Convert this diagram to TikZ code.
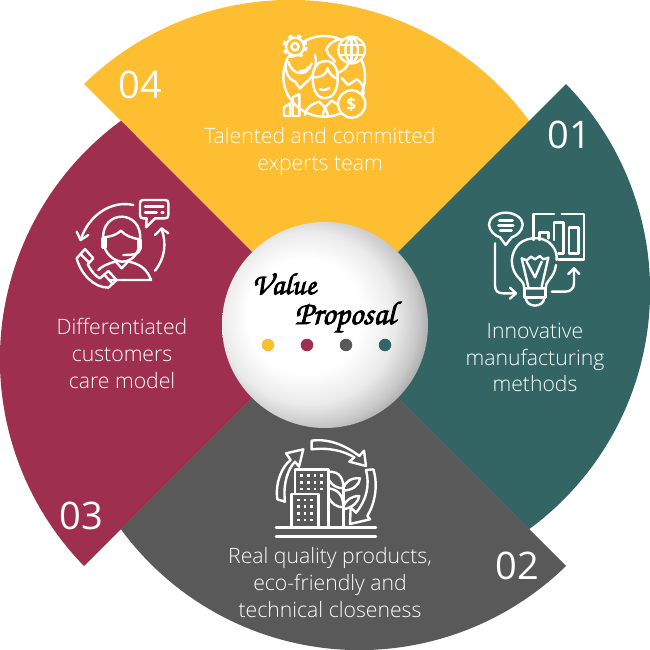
\documentclass[tikz,border=0pt]{standalone}
\usepackage{fontspec}
\setmainfont[Ligatures=NoCommon]{Open Sans Light}
\newfontfamily\numf{Open Sans}
\newfontfamily\scriptf[FakeBold=2.5]{TeX Gyre Chorus}
\definecolor{cyel}{HTML}{FDBE32}
\definecolor{cteal}{HTML}{336565}
\definecolor{cmar}{HTML}{9F2F4F}
\definecolor{cgry}{HTML}{595959}
\pgfdeclareradialshading{sph}{\pgfpoint{-7bp}{3bp}}{
 color(0bp)=(white); color(14bp)=(white); color(21bp)=(black!8); color(26bp)=(black!22); color(32.5bp)=(black!50); color(50bp)=(black!55)}
\tikzset{
 lbl/.style={text=white,font=\fontsize{21.2}{26.6}\selectfont,align=center,inner sep=0pt},
 num/.style={text=white,font=\numf\fontsize{38}{38}\selectfont,inner sep=0pt},
 ic/.style={draw=white,line width=2.4pt,line cap=round,line join=round},
 dot/.style={circle,minimum size=12.5pt,inner sep=0pt},
}
\newcommand{\sect}[2]{\fill[#2,rotate=#1] (0,0) -- (-241,241) arc[start angle=134.3,end angle=36.2,radius=295.8] -- cycle;}
\begin{document}
\begin{tikzpicture}[x=1pt,y=-1pt]
\useasboundingbox (0,0) rectangle (650,650);
\begin{scope}[shift={(325,325)},x=1pt,y=1pt]
\sect{0}{cyel}
\sect{-90}{cteal}
\sect{-180}{cgry}
\sect{-270}{cmar}
\shade[shading=sph] (0,0) circle[radius=103];
\end{scope}
\node[dot,fill=cyel] (d1) at (268,345) {};
\node[dot,fill=cmar] (d2) at (307,345) {};
\node[dot,fill=cgry] (d3) at (346,345) {};
\node[dot,fill=cteal] (d4) at (385,345) {};
\node[font=\scriptf\fontsize{30.5}{30}\selectfont,inner sep=0pt] (v) at (284,284) {Value};
\node[font=\scriptf\fontsize{33}{33}\selectfont,inner sep=0pt] (p) at (345,317) {Proposal};
\node[num] (n4) at (140,85) {04};
\node[num] (n1) at (569,135) {01};
\node[num] (n3) at (81,516) {03};
\node[num] (n2) at (517,566) {02};
\node[lbl] (t4) at (320,151.5) {Talented and committed\\experts team};
\node[lbl] (t1) at (535,357.5) {Innovative\\manufacturing\\methods};
\node[lbl] (t3) at (122,353.5) {Differentiated\\customers\\care model};
\node[lbl] (t2) at (330,582.5) {Real quality products,\\eco-friendly and\\technical closeness};
% team icon
\begin{scope}[shift={(200,0)},x=1pt/3,y=-1pt/3,ic]
\draw (250,230) .. controls (250,160) and (310,108) .. (372,108) .. controls (440,108) and (495,160) .. (495,230) .. controls (495,300) and (440,350) .. (372,350) .. controls (310,350) and (250,300) .. (250,230);
\draw[fill=cyel] (285,140) circle[radius=27];
\draw[line width=4.5pt,dash pattern=on 4pt off 4.4pt,line cap=butt] (285,140) circle[radius=31];
\draw (285,140) circle[radius=11];
\draw[fill=cyel] (455,150) circle[radius=40];
\draw (455,110) .. controls (430,125) and (430,175) .. (455,190) .. controls (480,175) and (480,125) .. (455,110);
\draw (455,110) -- (455,190) (418,135) -- (492,135) (418,165) -- (492,165);
% left person
\draw[fill=cyel] (262,175) .. controls (250,210) and (262,235) .. (285,245) -- (300,265) -- (320,245) .. controls (345,230) and (352,190) .. (345,165);
\draw (265,185) .. controls (275,225) and (320,235) .. (335,190);
\draw (300,212) .. controls (312,215) and (322,208) .. (326,200);
% right person
\draw (378,150) .. controls (385,130) and (405,120) .. (420,118);
\draw (380,150) .. controls (385,170) and (400,175) .. (405,185);
\draw (425,235) -- (445,255) -- (470,238);
\draw (470,238) .. controls (490,250) and (492,265) .. (490,285);
\draw (410,220) .. controls (425,215) and (440,205) .. (445,190);
% centre person
\draw[fill=cyel] (338,235) .. controls (338,195) and (360,183) .. (378,183) .. controls (400,183) and (415,205) .. (413,238) .. controls (413,275) and (395,295) .. (375,295) .. controls (355,295) and (338,275) .. (338,235);
\draw (342,232) .. controls (365,232) and (380,222) .. (383,205) .. controls (388,220) and (398,232) .. (412,236);
\draw (360,268) .. controls (370,272) and (380,270) .. (388,264);
\draw (315,345) .. controls (318,322) and (335,312) .. (358,305) -- (375,322) -- (395,302) -- (415,315);
\draw (375,322) -- (368,345) (375,322) -- (384,345);
% bars
\draw (252,348) -- (252,322) -- (270,310) -- (270,348) -- cycle;
\draw (278,348) -- (278,292) -- (298,282) -- (298,348) -- cycle;
% coin
\draw[fill=cyel] (455,312) circle[radius=41];
\node[text=white,font=\numf\fontsize{17}{17}\selectfont\bfseries,inner sep=0pt,draw=none] (dol) at (454,313) {\$};
\end{scope}
% lightbulb icon
\begin{scope}[shift={(460,190)},x=1pt/3,y=-1pt/3,ic]
\draw (137,68) .. controls (165,68) and (188,85) .. (188,103) .. controls (188,122) and (170,138) .. (155,142) -- (137,165) -- (120,142) .. controls (105,138) and (87,122) .. (87,103) .. controls (87,85) and (110,68) .. (137,68) -- cycle;
\draw (118,92) -- (158,92) (115,107) -- (160,107) (120,122) -- (155,122);
\draw (105,160) -- (105,285) .. controls (105,302) and (112,310) .. (130,310) -- (167,310);
\draw (150,293) -- (168,310) -- (150,326);
\draw (220,150) -- (220,72) -- (282,72) (305,72) -- (372,72) -- (372,208) -- (295,208);
\draw (238,150) -- (238,128) -- (265,128) -- (265,145);
\draw (282,150) -- (282,97) -- (310,97) -- (310,190) -- (295,190);
\draw (327,190) -- (327,112) -- (355,112) -- (355,190) -- cycle;
\draw (180,268) .. controls (155,245) and (145,205) .. (170,170) .. controls (185,145) and (245,130) .. (275,165) .. controls (285,175) and (292,195) .. (290,210);
\draw (288,225) .. controls (285,245) and (278,258) .. (267,270);
\draw (185,205) -- (200,211) -- (213,200) -- (225,208) -- (240,198) -- (250,208) -- (265,203);
\draw (185,205) -- (205,290) (265,203) -- (245,290);
\draw (200,215) -- (225,262) -- (245,215);
\draw (180,268) .. controls (190,278) and (193,285) .. (193,295) -- (257,295) .. controls (257,285) and (260,278) .. (267,270);
\draw (193,295) -- (193,322) -- (257,322) -- (257,295);
\draw (197,322) .. controls (198,355) and (252,355) .. (253,322);
\draw (275,305) -- (315,305) .. controls (332,305) and (342,295) .. (342,280) -- (342,238);
\draw (325,252) -- (342,235) -- (358,252);
\end{scope}
% city icon
\begin{scope}[shift={(260,420)},x=1pt/3,y=-1pt/3,ic]
\draw[line width=2.6pt] (48,322) -- (348,322) (48,350) -- (348,350);
\draw (105,218) -- (105,148) -- (205,148) -- (205,322);
\foreach \xx in {125,145,165,185} \foreach \yy in {167,187,207} {\fill[white] (\xx-4,\yy-4) rectangle (\xx+4,\yy+4);}
\draw (95,322) -- (95,222) -- (175,222) -- (175,322);
\foreach \xx in {115,135,155} \foreach \yy in {240,260,280,300} {\fill[white] (\xx-4,\yy-4) rectangle (\xx+4,\yy+4);}
\draw (250,322) -- (250,190);
\draw (207,155) .. controls (240,155) and (250,175) .. (250,205) .. controls (230,205) and (215,195) .. (207,180);
\draw (207,205) .. controls (235,210) and (250,225) .. (250,262) .. controls (230,262) and (215,250) .. (207,235);
\draw (250,205) .. controls (255,185) and (275,172) .. (300,175) .. controls (298,195) and (280,210) .. (250,212);
\draw (250,262) .. controls (255,240) and (275,228) .. (298,228) .. controls (295,245) and (280,262) .. (250,268);
\draw (75,245) -- (52,238) .. controls (45,190) and (65,140) .. (92,120) -- (78,100) -- (130,88) -- (117,140) -- (105,125) .. controls (85,145) and (68,190) .. (75,245) -- cycle;
\draw (155,62) .. controls (205,55) and (255,75) .. (298,108) -- (312,92) -- (318,138) -- (268,125) -- (283,112) .. controls (250,92) and (205,82) .. (155,88) -- cycle;
\draw (318,150) -- (340,148) .. controls (355,195) and (345,250) .. (322,288) -- (330,298) -- (270,312) -- (272,262) -- (288,278) .. controls (320,240) and (330,195) .. (318,150) -- cycle;
\end{scope}
% care icon
\begin{scope}[shift={(60,190)},x=1pt/3,y=-1pt/3,ic]
\draw (250,30) -- (315,30) .. controls (322,30) and (325,33) .. (325,40) -- (325,75) .. controls (325,82) and (322,85) .. (315,85) -- (285,85) -- (258,112) -- (260,85) -- (250,85) .. controls (243,85) and (240,82) .. (240,75) -- (240,40) .. controls (240,33) and (243,30) .. (250,30) -- cycle;
\draw (255,50) -- (310,50) (255,67) -- (290,67) (305,67) -- (310,67);
\draw (220,45) .. controls (155,30) and (85,75) .. (62,150);
\draw (50,125) -- (62,150) -- (85,135);
\draw (285,242) .. controls (315,205) and (320,160) .. (305,118);
\draw (285,135) -- (305,115) -- (325,130);
\draw (130,150) .. controls (125,105) and (155,80) .. (185,80) .. controls (215,80) and (245,105) .. (240,150);
\draw (133,170) .. controls (140,195) and (165,215) .. (188,215) .. controls (205,215) and (225,205) .. (235,178);
\draw (132,142) .. controls (150,140) and (170,135) .. (183,122) .. controls (195,138) and (220,145) .. (238,148);
\draw (128,145) -- (136,145) -- (136,172) -- (128,172) -- cycle;
\draw (235,150) -- (243,150) -- (243,175) -- (235,175) -- cycle;
\draw (240,178) .. controls (238,190) and (228,195) .. (190,195);
\draw (165,212) -- (185,235) -- (207,212);
\draw (115,240) .. controls (125,230) and (140,222) .. (165,215);
\draw (207,215) .. controls (240,222) and (262,238) .. (273,270) -- (148,270);
\draw (50,205) -- (75,177) -- (100,205) -- (83,223) .. controls (95,245) and (105,258) .. (120,265) -- (145,243) -- (170,270) -- (145,293) .. controls (100,293) and (62,250) .. (50,205) -- cycle;
\draw (62,193) -- (88,218) (133,254) -- (158,282);
\end{scope}
\end{tikzpicture}
\end{document}
